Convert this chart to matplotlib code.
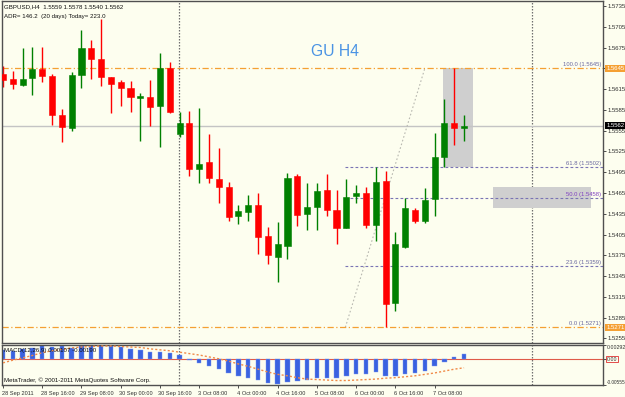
import matplotlib.pyplot as plt
import numpy as np
from matplotlib.patches import Rectangle
from matplotlib.transforms import ScaledTranslation, blended_transform_factory


# GBPUSD H4, bar 0 = 28 Sep 2011 00:00
opens = [1.5637, 1.5629, 1.5621, 1.5631, 1.5644, 1.5634, 1.5578, 1.5559, 1.5635, 1.5674,
         1.5658, 1.5632, 1.5625, 1.5617, 1.5602, 1.5603, 1.5590, 1.5645, 1.5550, 1.5566,
         1.5500, 1.5509, 1.5485, 1.5474, 1.5431, 1.5438, 1.5448, 1.5403, 1.5373, 1.5389,
         1.5489, 1.5434, 1.5444, 1.5469, 1.5440, 1.5415, 1.5460, 1.5465, 1.5419, 1.5482,
         1.5306, 1.5387, 1.5441, 1.5424, 1.5456, 1.5517, 1.5566, 1.5559]
highs = [1.5648, 1.5641, 1.5674, 1.5676, 1.5676, 1.5637, 1.5586, 1.5639, 1.5701, 1.5686,
         1.5716, 1.5633, 1.5628, 1.5627, 1.5609, 1.5628, 1.5667, 1.5654, 1.5582, 1.5583,
         1.5587, 1.5550, 1.5530, 1.5481, 1.5448, 1.5462, 1.5465, 1.5416, 1.5423, 1.5494,
         1.5493, 1.5479, 1.5479, 1.5493, 1.5469, 1.5485, 1.5477, 1.5474, 1.5502, 1.5496,
         1.5409, 1.5457, 1.5443, 1.5472, 1.5551, 1.5600, 1.5645, 1.5578]
lows = [1.5618, 1.5615, 1.5619, 1.5606, 1.5625, 1.5563, 1.5538, 1.5555, 1.5617, 1.5630,
        1.5620, 1.5580, 1.5591, 1.5582, 1.5540, 1.5561, 1.5532, 1.5580, 1.5546, 1.5490,
        1.5480, 1.5480, 1.5450, 1.5425, 1.5420, 1.5424, 1.5377, 1.5362, 1.5337, 1.5369,
        1.5417, 1.5411, 1.5412, 1.5431, 1.5392, 1.5414, 1.5450, 1.5414, 1.5395, 1.5271,
        1.5294, 1.5385, 1.5422, 1.5422, 1.5431, 1.5502, 1.5534, 1.5540]
closes = [1.5628, 1.5622, 1.5630, 1.5644, 1.5634, 1.5578, 1.5560, 1.5635, 1.5675, 1.5659,
          1.5633, 1.5623, 1.5617, 1.5603, 1.5605, 1.5589, 1.5646, 1.5582, 1.5566, 1.5499,
          1.5507, 1.5486, 1.5474, 1.5430, 1.5439, 1.5448, 1.5401, 1.5375, 1.5391, 1.5487,
          1.5433, 1.5445, 1.5468, 1.5440, 1.5415, 1.5459, 1.5465, 1.5418, 1.5481, 1.5305,
          1.5391, 1.5443, 1.5425, 1.5455, 1.5517, 1.5566, 1.5559, 1.5562]

macd_main = [0.00186, 0.00164, 0.00215, 0.00236, 0.00286, 0.00257, 0.00272, 0.00222, 0.00272, 0.00293,
             0.00293, 0.00272, 0.00250, 0.00200, 0.00186, 0.00150, 0.00150, 0.00114, 0.00079, -0.00029,
             -0.00086, -0.00143, -0.00215, -0.00300, -0.00358, -0.00400, -0.00440, -0.00510, -0.00540, -0.00490,
             -0.00480, -0.00443, -0.00408, -0.00408, -0.00408, -0.00358, -0.00322, -0.00322, -0.00279, -0.00358,
             -0.00372, -0.00322, -0.00300, -0.00265, -0.00157, -0.00064, 0.00036, 0.00107]
macd_signal = [-0.00086, -0.00030, 0.00020, 0.00070, 0.00130, 0.00170, 0.00200, 0.00230, 0.00250, 0.00260,
               0.00270, 0.00270, 0.00260, 0.00250, 0.00240, 0.00210, 0.00190, 0.00170, 0.00140, 0.00110,
               0.00080, 0.00040, 0.00000, -0.00050, -0.00110, -0.00160, -0.00220, -0.00280, -0.00330, -0.00360,
               -0.00400, -0.00430, -0.00440, -0.00450, -0.00460, -0.00460, -0.00450, -0.00440, -0.00430, -0.00410,
               -0.00400, -0.00380, -0.00360, -0.00330, -0.00300, -0.00260, -0.00220, -0.00190]

date_bars = [0, 4, 8, 12, 16, 20, 24, 28, 32, 36, 40, 44]
date_labels = ["28 Sep 2011", "28 Sep 16:00", "29 Sep 08:00", "30 Sep 00:00", "30 Sep 16:00",
               "3 Oct 08:00", "4 Oct 00:00", "4 Oct 16:00", "5 Oct 08:00", "6 Oct 00:00",
               "6 Oct 16:00", "7 Oct 08:00"]

price_ticks = [1.5735, 1.5705, 1.5675, 1.5645, 1.5615, 1.5585, 1.5555, 1.5525, 1.5495, 1.5465,
               1.5435, 1.5405, 1.5375, 1.5345, 1.5315, 1.5285, 1.5255]

fib_low = 1.5271
fib_high = 1.5645
fib_levels = [0.0, 23.6, 50.0, 61.8, 100.0]
bid = 1.5562

separators = [17.9, 53.9]

BG = "#fdfeef"
BULL = "#008000"
BEAR = "#ff0000"
FONT = ["Liberation Sans", "DejaVu Sans"]
SMALL = 4.4

W, H = 625, 397
fig = plt.figure(figsize=(W / 100, H / 100), dpi=100, facecolor=BG)


def px_axes(x0, y0, x1, y1):
    return fig.add_axes([x0 / W, 1 - y1 / H, (x1 - x0) / W, (y1 - y0) / H])


ax = px_axes(2, 1, 603, 343)
am = px_axes(2, 345, 603, 385)

xlim = ((2 - 3) / 9.81, (603 - 3) / 9.81)

for a in (ax, am):
    a.set_facecolor(BG)
    a.set_xlim(*xlim)
    for s in a.spines.values():
        s.set_color("#505050")
        s.set_linewidth(1.0)
    a.yaxis.tick_right()
    a.tick_params(axis="y", direction="out", length=2, width=0.6, colors="#303030",
                  labelsize=4.3, pad=1.2)
    for v in separators:
        a.axvline(v, color="#707070", lw=0.9, ls=(0, (1.2, 1.2)), zorder=1)

# main price panel
ax.set_ylim(1.5645 - (343 - 68.3) / 6925, 1.5645 + (68.3 - 1) / 6925)
ax.set_xticks([])
ax.set_yticks(price_ticks)
ax.set_yticklabels([f"{p:.4f}" for p in price_ticks], family=FONT)

x = np.arange(len(opens))
o = np.array(opens)
c = np.array(closes)
cols = np.where(c >= o, BULL, BEAR)

ax.add_patch(Rectangle((44.9, 1.5502), 3.0, 1.5645 - 1.5502, facecolor="#cfcfcf",
                       edgecolor="none", zorder=1))
ax.add_patch(Rectangle((49.95, 1.54433), 9.95, 1.54736 - 1.54433, facecolor="#cfcfcf",
                       edgecolor="none", zorder=1))

ax.axhline(bid, color="#c4c4c4", lw=1.0, zorder=1.5)

# fibonacci retracement
fib_x0, fib_x1 = 34.9, 43.0
ax.plot([fib_x0, fib_x1], [fib_low, fib_high], color="#b8b8b0", lw=0.8, ls=(0, (1.5, 2)), zorder=1.6)
for lv in fib_levels:
    p = fib_low + (fib_high - fib_low) * lv / 100
    if lv in (0.0, 100.0):
        ax.axhline(p, color="#f5a033", lw=0.9, ls=(0, (5, 2, 1, 2)), zorder=1.7)
    else:
        ax.plot([fib_x0, xlim[1]], [p, p], color="#7a74b4", lw=0.8, ls=(0, (2.5, 2)), zorder=1.7)
    ax.annotate(f"{lv:.1f} ({p:.4f})", (xlim[1], p), xytext=(-1.5, 0.8), textcoords="offset points",
                ha="right", va="bottom", fontsize=4.2, family=FONT,
                color="#8040c0" if lv == 50.0 else "#6a68a0", zorder=5)

ax.vlines(x, lows, highs, colors=cols, lw=1.0, zorder=2)
ax.bar(x, c - o, bottom=o, width=0.62, color=cols, edgecolor=cols, linewidth=0.4, zorder=3)

ax.text((311 - 3) / 9.81, 1.5645 + (68.3 - 51.5) / 6925, "GU H4", fontsize=11.3,
        family=FONT, color="#4a93e4", va="center", ha="left")

ax.text(0.004, 0.99, "GBPUSD,H4  1.5559 1.5578 1.5540 1.5562", transform=ax.transAxes,
        fontsize=SMALL, family=FONT, color="#101010", va="top", ha="left")
ax.text(0.004, 0.962, "ADR= 146.2  (20 days) Today= 223.0", transform=ax.transAxes,
        fontsize=SMALL, family=FONT, color="#101010", va="top", ha="left")

tr = blended_transform_factory(ax.transAxes, ax.transData)
for p, fc in ((fib_high, "#f5a033"), (bid, "#000000"), (fib_low, "#f5a033")):
    ax.text(1.0, p, f"{p:.4f}", transform=tr + ScaledTranslation(3.5 / 100, 0, fig.dpi_scale_trans),
            fontsize=4.3, family=FONT, color="white", va="center", ha="left", zorder=10,
            clip_on=False, bbox=dict(boxstyle="square,pad=0.2", facecolor=fc, edgecolor=fc, lw=0))

# MACD panel
am.set_ylim(-0.00555, 0.00292)
am.axhline(0, color="#e05a48", lw=0.8, zorder=1.5)
am.bar(x, macd_main, width=0.45, color="#3a62e0", edgecolor="#7f9af0", linewidth=0.3, zorder=2)
am.plot(x, macd_signal, color="#f08a48", lw=1.0, ls=(0, (1.5, 1.5)), zorder=3)
am.set_yticks([0.00292, 0.0, -0.00555])
am.set_yticklabels(["0.00292", "0.00", "-0.00555"], family=FONT)
am.tick_params(axis="y", labelsize=3.8, pad=0.6)
yl = am.get_yticklabels()
yl[0].set_va("top")
yl[2].set_va("bottom")
yl[2].set_fontsize(3.4)
yl[1].set_bbox(dict(boxstyle="square,pad=0.1", facecolor="none", edgecolor="#e03030", lw=0.6))

am.set_xticks(date_bars)
am.set_xticklabels(date_labels, family=FONT, fontsize=4.1, ha="left")
am.tick_params(axis="x", direction="out", length=2.5, width=0.6, colors="#303030", pad=1.5)
for lab in am.get_xticklabels():
    lab.set_transform(lab.get_transform() + ScaledTranslation(-1.5 / 100, 0, fig.dpi_scale_trans))

am.text(0.004, 0.93, "MACD(12,26,9) 0.00107 -0.00190", transform=am.transAxes,
        fontsize=SMALL, family=FONT, color="#101010", va="top", ha="left", zorder=5)
am.text(0.004, 0.06, "MetaTrader, \u00a9 2001-2011 MetaQuotes Software Corp.", transform=am.transAxes,
        fontsize=SMALL, family=FONT, color="#101010", va="bottom", ha="left", zorder=5)

fig.savefig("out.png", dpi=100, facecolor=BG)
